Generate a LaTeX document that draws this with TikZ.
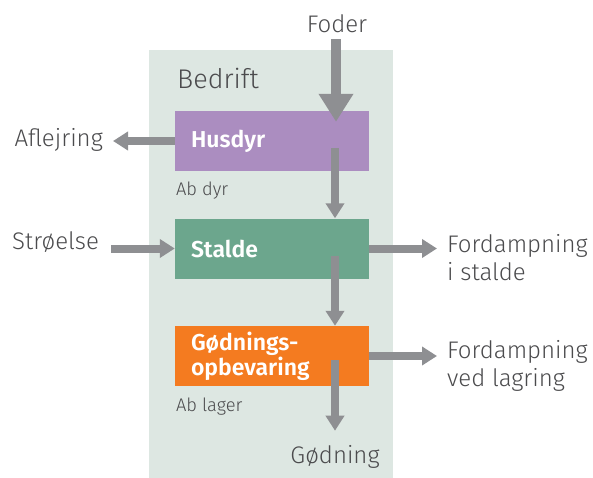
\documentclass[tikz,border=0pt]{standalone}
\usepackage{fontspec}
\setmainfont{Fira Sans}[UprightFont=* Light, BoldFont=* SemiBold]
\usetikzlibrary{shapes, arrows.meta}
\definecolor{panelbg}{HTML}{DDE7E2}
\definecolor{husdyrc}{HTML}{AB8DC0}
\definecolor{staldec}{HTML}{6CA68D}
\definecolor{lagerc}{HTML}{F47B20}
\definecolor{flowgray}{HTML}{8E8F92}
\definecolor{textgray}{HTML}{4B4B4D}
\tikzstyle{block} = [rectangle, text=white, font=\bfseries\fontsize{23}{25}\selectfont,
    minimum width=194pt, minimum height=60pt, text width=162pt, inner xsep=16pt,
    inner ysep=0pt, align=left]
\tikzstyle{outtext} = [text=textgray, font=\fontsize{24}{28}\selectfont,
    inner sep=0pt, align=left]
\tikzstyle{note} = [text=textgray, font=\fontsize{18.3}{21}\selectfont, inner sep=0pt]
\tikzstyle{line} = [draw=flowgray, line width=8pt, -{Triangle[length=15pt, width=18pt]}]
\tikzstyle{bigline} = [line, line width=10pt, -{Triangle[length=28pt, width=33pt]}]

\begin{document}
\begin{tikzpicture}[x=1pt, y=1pt, node distance=107.5pt]
        \useasboundingbox (0,0) rectangle (593,-478);
        % Farm area
        \fill [panelbg] (149,-50) rectangle (393,-478);
        \node [outtext, font=\fontsize{27}{30}\selectfont, anchor=base west] (bedrift) at (177,-89) {Bedrift};
        % Place nodes
        \node [block, fill=husdyrc] (husdyr) at (272,-141) {Husdyr};
        \node [block, fill=staldec, below of=husdyr] (stalde) {Stalde};
        \node [block, fill=lagerc, below of=stalde] (lager) {Gødnings-\\opbevaring};
        \node [note, anchor=north west] (abdyr) at ([xshift=1pt, yshift=-11pt]husdyr.south west) {Ab dyr};
        \node [note, anchor=north west] (ablager) at ([xshift=1pt, yshift=-11pt]lager.south west) {Ab lager};
        \node [outtext] (foder) at (337,-24) {Foder};
        \node [outtext, anchor=base east] (aflej) at (103,-147) {Aflejring};
        \node [outtext, anchor=base west] (stroe) at (12,-249) {Strøelse};
        \node [outtext, anchor=north west] (fordstald) at (447,-234) {Fordampning\\i stalde};
        \node [outtext, anchor=north west] (fordlager) at (447,-340) {Fordampning\\ved lagring};
        \node [outtext, anchor=base] (goedning) at (335,-463) {Gødning};
        \coordinate (feedin) at ([xshift=64pt, yshift=-11pt]husdyr.north);
        % Draw edges
        \path [bigline] ([yshift=-6pt]foder.south -| feedin) -- (feedin);
        \path [line] (husdyr.west) -- ([xshift=10pt]aflej.east |- husdyr.west);
        \path [line] ([xshift=12pt]stroe.east |- stalde.west) -- (stalde.west);
        \path [line] ([xshift=63pt, yshift=-7pt]husdyr.center) -- ([xshift=63pt]stalde.north);
        \path [line] ([xshift=63pt, yshift=-7pt]stalde.center) -- ([xshift=63pt]lager.north);
        \path [line] ([xshift=63pt, yshift=-4pt]lager.center) -- ([yshift=14pt]goedning.north);
        \path [line] (stalde.east) -- ([xshift=-10pt]fordstald.west |- stalde.east);
        \path [line] (lager.east) -- ([xshift=-10pt]fordlager.west |- lager.east);
    \end{tikzpicture}
\end{document}
